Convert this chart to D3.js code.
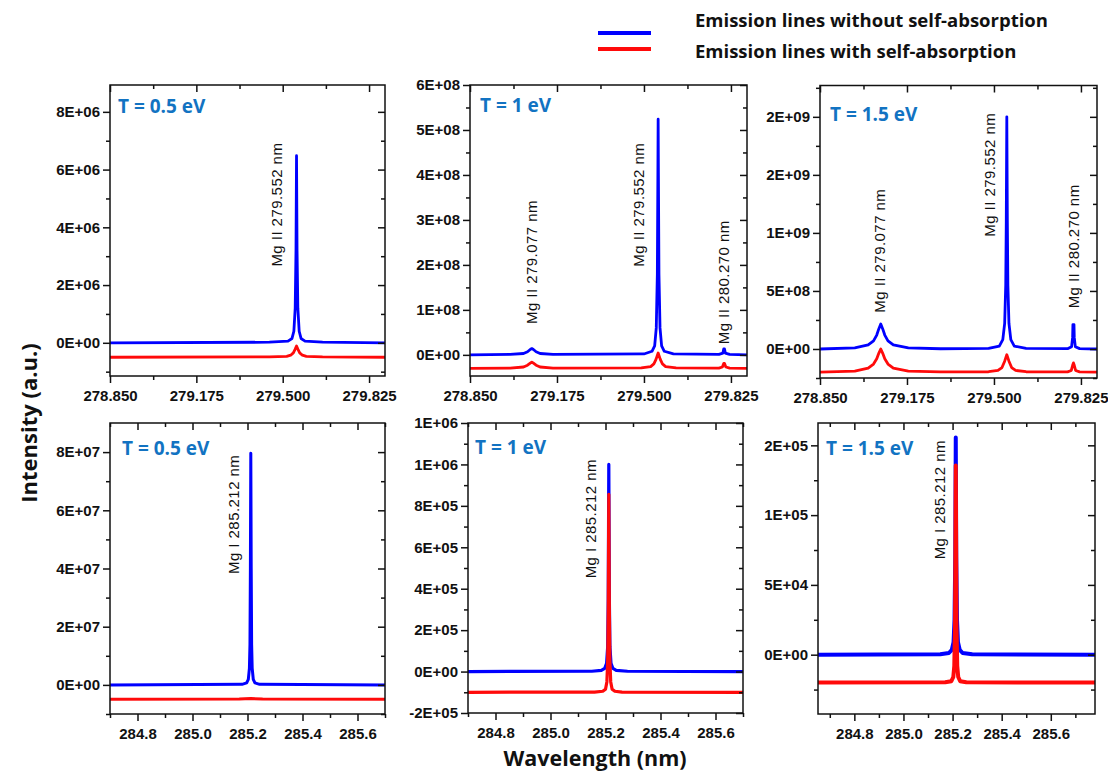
<!DOCTYPE html>
<html><head><meta charset="utf-8">
<script src="https://cdn.jsdelivr.net/npm/d3@7"></script>
<style>body{margin:0;background:#fff}svg{display:block}</style>
</head><body>
<svg id="chart" width="1108" height="775"></svg>
<script>
// ---------- DATA ----------
const legendLabels = ["Emission lines without self-absorption", "Emission lines with self-absorption"];
const tempLabels = ["T = 0.5 eV", "T = 1 eV", "T = 1.5 eV", "T = 0.5 eV", "T = 1 eV", "T = 1.5 eV"];

// x ticks
const xTicksTop = [278.85, 279.175, 279.5, 279.825];
const xTickLabelsTop = ["278.850", "279.175", "279.500", "279.825"];
const xMinorTop = [279.0125, 279.3375, 279.6625];
const xTicksBot = [284.8, 285.0, 285.2, 285.4, 285.6];
const xTickLabelsBot = ["284.8", "285.0", "285.2", "285.4", "285.6"];
const xMinorBot = [284.7, 284.9, 285.1, 285.3, 285.5, 285.7];

// y ticks per panel
const yTicks1 = [0, 2e6, 4e6, 6e6, 8e6];
const yTickLabels1 = ["0E+00", "2E+06", "4E+06", "6E+06", "8E+06"];
const yMinor1 = [-1e6, 1e6, 3e6, 5e6, 7e6];
const yTicks2 = [0, 1e8, 2e8, 3e8, 4e8, 5e8, 6e8];
const yTickLabels2 = ["0E+00", "1E+08", "2E+08", "3E+08", "4E+08", "5E+08", "6E+08"];
const yMinor2 = [0.5e8, 1.5e8, 2.5e8, 3.5e8, 4.5e8, 5.5e8];
const yTicks3 = [0, 5e8, 1e9, 1.5e9, 2e9];
const yTickLabels3 = ["0E+00", "5E+08", "1E+09", "2E+09", "2E+09"];
const yMinor3 = [-2.5e8, 2.5e8, 7.5e8, 1.25e9, 1.75e9, 2.25e9];
const yTicks4 = [0, 2e7, 4e7, 6e7, 8e7];
const yTickLabels4 = ["0E+00", "2E+07", "4E+07", "6E+07", "8E+07"];
const yMinor4 = [-1e7, 1e7, 3e7, 5e7, 7e7];
const yTicks5 = [-2e5, 0, 2e5, 4e5, 6e5, 8e5, 1e6, 1.2e6];
const yTickLabels5 = ["-2E+05", "0E+00", "2E+05", "4E+05", "6E+05", "8E+05", "1E+06", "1E+06"];
const yMinor5 = [-1e5, 1e5, 3e5, 5e5, 7e5, 9e5, 1.1e6];
const yTicks6 = [0, 5e4, 1e5, 1.5e5];
const yTickLabels6 = ["0E+00", "5E+04", "1E+05", "2E+05"];
const yMinor6 = [-2.5e4, 2.5e4, 7.5e4, 1.25e5];

// spectra [wavelength nm, intensity]
const p1Blue = [[278.85,0],[279.45,0.02e6],[279.52,0.06e6],[279.535,0.15e6],[279.542,0.4e6],[279.547,1.2e6],[279.550,3.2e6],[279.552,6.48e6],[279.554,3.2e6],[279.557,1.2e6],[279.562,0.4e6],[279.569,0.15e6],[279.584,0.06e6],[279.65,0.02e6],[279.885,0]];
const p1Red = [[278.85,-0.5e6],[279.45,-0.49e6],[279.515,-0.47e6],[279.530,-0.43e6],[279.540,-0.35e6],[279.547,-0.22e6],[279.552,-0.11e6],[279.557,-0.22e6],[279.564,-0.35e6],[279.574,-0.43e6],[279.589,-0.47e6],[279.65,-0.49e6],[279.885,-0.5e6]];

const p2Blue = [[278.85,0],[279.00,0.01e8],[279.05,0.03e8],[279.065,0.07e8],[279.075,0.12e8],[279.081,0.14e8],[279.087,0.12e8],[279.097,0.07e8],[279.112,0.03e8],[279.16,0.01e8],
  [279.50,0.02e8],[279.530,0.08e8],[279.540,0.2e8],[279.546,0.6e8],[279.550,1.8e8],[279.552,4e8],[279.553,5.24e8],[279.554,4e8],[279.556,1.8e8],[279.560,0.6e8],[279.566,0.2e8],[279.576,0.08e8],[279.61,0.02e8],
  [279.78,0.01e8],[279.795,0.04e8],[279.798,0.13e8],[279.801,0.13e8],[279.804,0.04e8],[279.82,0.01e8],[279.885,0]];
const p2Red = [[278.85,-0.3e8],[279.00,-0.295e8],[279.05,-0.27e8],[279.065,-0.23e8],[279.075,-0.185e8],[279.081,-0.16e8],[279.087,-0.185e8],[279.097,-0.23e8],[279.112,-0.27e8],[279.16,-0.295e8],
  [279.49,-0.29e8],[279.525,-0.26e8],[279.537,-0.20e8],[279.545,-0.10e8],[279.553,0.04e8],[279.561,-0.10e8],[279.569,-0.20e8],[279.581,-0.26e8],[279.62,-0.29e8],
  [279.78,-0.295e8],[279.793,-0.27e8],[279.798,-0.19e8],[279.801,-0.19e8],[279.806,-0.27e8],[279.82,-0.295e8],[279.885,-0.3e8]];

const p3Blue = [[278.85,0],[278.98,0.1e8],[279.03,0.35e8],[279.050,0.7e8],[279.062,1.2e8],[279.070,1.75e8],[279.077,2.15e8],[279.084,1.75e8],[279.092,1.2e8],[279.104,0.7e8],[279.124,0.35e8],[279.18,0.1e8],[279.30,0.02e8],
  [279.48,0.05e8],[279.520,0.25e8],[279.533,0.8e8],[279.540,2.2e8],[279.544,5.5e8],[279.546,11e8],[279.548,20e8],[279.550,11e8],[279.552,5.5e8],[279.556,2.2e8],[279.563,0.8e8],[279.576,0.25e8],[279.62,0.05e8],
  [279.775,0.03e8],[279.790,0.2e8],[279.794,1.0e8],[279.795,2.1e8],[279.799,2.1e8],[279.800,1.0e8],[279.804,0.2e8],[279.82,0.03e8],[279.885,0]];
const p3Red = [[278.85,-2.0e8],[278.98,-1.9e8],[279.03,-1.65e8],[279.050,-1.3e8],[279.062,-0.85e8],[279.070,-0.35e8],[279.077,0],[279.084,-0.35e8],[279.092,-0.85e8],[279.104,-1.3e8],[279.124,-1.65e8],[279.18,-1.9e8],[279.30,-1.98e8],
  [279.48,-1.96e8],[279.515,-1.85e8],[279.530,-1.6e8],[279.540,-1.05e8],[279.548,-0.5e8],[279.556,-1.05e8],[279.566,-1.6e8],[279.581,-1.85e8],[279.62,-1.96e8],
  [279.775,-1.97e8],[279.789,-1.85e8],[279.794,-1.4e8],[279.797,-1.2e8],[279.800,-1.4e8],[279.805,-1.85e8],[279.82,-1.97e8],[279.885,-2.0e8]];

const p4Blue = [[284.70,0],[285.18,0.02e7],[285.197,0.07e7],[285.203,0.19e7],[285.207,0.58e7],[285.209,1.4e7],[285.2105,4e7],[285.212,7.96e7],[285.2135,4e7],[285.215,1.4e7],[285.217,0.58e7],[285.221,0.19e7],[285.227,0.07e7],[285.244,0.02e7],[285.70,0]];
const p4Red = [[284.70,-0.49e7],[285.17,-0.488e7],[285.212,-0.47e7],[285.255,-0.488e7],[285.70,-0.49e7]];

const p5Blue = [[284.70,0],[285.15,1500],[285.185,6000],[285.197,15000],[285.204,40000],[285.208,120000],[285.210,350000],[285.212,1000000],[285.214,350000],[285.216,120000],[285.220,40000],[285.227,15000],[285.239,6000],[285.28,1500],[285.70,0]];
const p5Red = [[284.70,-100000],[285.16,-99000],[285.190,-95000],[285.200,-85000],[285.205,-50000],[285.208,50000],[285.210,300000],[285.212,855000],[285.214,300000],[285.216,50000],[285.219,-50000],[285.224,-85000],[285.234,-95000],[285.26,-99000],[285.70,-100000]];

const p6Blue = [[284.652,0],[285.15,300],[285.185,1200],[285.197,3500],[285.204,9000],[285.208,25000],[285.211,70000],[285.213,155600],[285.215,70000],[285.218,25000],[285.222,9000],[285.229,3500],[285.241,1200],[285.28,300],[285.78,0]];
const p6Red = [[284.652,-20000],[285.17,-19800],[285.195,-19000],[285.203,-16000],[285.207,-8000],[285.210,20000],[285.213,135600],[285.216,20000],[285.219,-8000],[285.223,-16000],[285.231,-19000],[285.256,-19800],[285.78,-20000]];

// peak labels: [text, wavelength of label centre, intensity at label start]
const p1Labels = [["Mg II 279.552 nm", 279.477, 2.64e6]];
const p2Labels = [["Mg II 279.077 nm", 279.0805, 0.686e8], ["Mg II 279.552 nm", 279.479, 1.96e8], ["Mg II 280.270 nm", 279.799, 0.235e8]];
const p3Labels = [["Mg II 279.077 nm", 279.074, 3.13e8], ["Mg II 279.552 nm", 279.483, 9.67e8], ["Mg II 280.270 nm", 279.796, 3.5e8]];
const p4Labels = [["Mg I 285.212 nm", 285.148, 3.81e7]];
const p5Labels = [["Mg I 285.212 nm", 285.144, 4.5e5]];
const p6Labels = [["Mg I 285.212 nm", 285.146, 6.83e4]];

// ---------- LAYOUT ----------
const BLUE = "#0000ff", RED = "#ff0a0a", TCOL = "#1273c2";
const panels = [
  {L:110, T:85, R:385, B:376, xd:[278.85,279.885], yd:[-1.15e6,8.93e6], xt:xTicksTop, xl:xTickLabelsTop, xm:xMinorTop, yt:yTicks1, yl:yTickLabels1, ym:yMinor1, blue:p1Blue, red:p1Red, labels:p1Labels, temp:tempLabels[0], tdx:8, tdy:21, lw:2.8},
  {L:470, T:85, R:747, B:376, xd:[278.85,279.885], yd:[-0.47e8,6.0e8], xt:xTicksTop, xl:xTickLabelsTop, xm:xMinorTop, yt:yTicks2, yl:yTickLabels2, ym:yMinor2, blue:p2Blue, red:p2Red, labels:p2Labels, temp:tempLabels[1], tdx:10, tdy:20, lw:2.8},
  {L:820, T:85.5, R:1097, B:378, xd:[278.85,279.885], yd:[-2.5e8,2.27e9], xt:xTicksTop, xl:xTickLabelsTop, xm:xMinorTop, yt:yTicks3, yl:yTickLabels3, ym:yMinor3, blue:p3Blue, red:p3Red, labels:p3Labels, temp:tempLabels[2], tdx:10, tdy:28, lw:2.8},
  {L:110, T:423, R:385, B:714, xd:[284.7,285.7], yd:[-1e7,9e7], xt:xTicksBot, xl:xTickLabelsBot, xm:xMinorBot, yt:yTicks4, yl:yTickLabels4, ym:yMinor4, blue:p4Blue, red:p4Red, labels:p4Labels, temp:tempLabels[3], tdx:12, tdy:25, lw:3},
  {L:468, T:423, R:743, B:713, xd:[284.7,285.7], yd:[-2e5,1.2e6], xt:xTicksBot, xl:xTickLabelsBot, xm:xMinorBot, yt:yTicks5, yl:yTickLabels5, ym:yMinor5, blue:p5Blue, red:p5Red, labels:p5Labels, temp:tempLabels[4], tdx:7, tdy:24, lw:3.2},
  {L:818, T:423, R:1095, B:714, xd:[284.652,285.78], yd:[-4.25e4,1.66e5], xt:xTicksBot, xl:xTickLabelsBot, xm:xMinorBot, yt:yTicks6, yl:yTickLabels6, ym:yMinor6, blue:p6Blue, red:p6Red, labels:p6Labels, temp:tempLabels[5], tdx:8, tdy:25, lw:4}
];

const svg = d3.select("#chart");
const TICKFONT = "'Liberation Sans', Arial, sans-serif";
const TITLEFONT = "'Open Sans', 'Noto Sans', sans-serif";

panels.forEach(p => {
  const x = d3.scaleLinear().domain(p.xd).range([p.L, p.R]);
  const y = d3.scaleLinear().domain(p.yd).range([p.B, p.T]);
  const g = svg.append("g");
  const clipId = "clip" + p.L + "_" + p.T;
  svg.append("clipPath").attr("id", clipId).append("rect")
    .attr("x", p.L).attr("y", p.T).attr("width", p.R - p.L).attr("height", p.B - p.T);

  const line = d3.line().x(d => x(d[0])).y(d => y(d[1]));
  const lines = g.append("g").attr("clip-path", `url(#${clipId})`);
  lines.append("path").attr("d", line(p.blue)).attr("fill", "none").attr("stroke", BLUE)
    .attr("stroke-width", p.lw).attr("stroke-linejoin", "round");
  lines.append("path").attr("d", line(p.red)).attr("fill", "none").attr("stroke", RED)
    .attr("stroke-width", p.lw).attr("stroke-linejoin", "round");

  // axes
  const fmtX = (d) => p.xl[p.xt.indexOf(d)];
  const fmtY = (d) => p.yl[p.yt.indexOf(d)];
  const axB = g.append("g").attr("transform", `translate(0,${p.B})`)
    .call(d3.axisBottom(x).tickValues(p.xt).tickFormat(fmtX).tickSize(7).tickPadding(4));
  const axBm = g.append("g").attr("transform", `translate(0,${p.B})`)
    .call(d3.axisBottom(x).tickValues(p.xm).tickFormat("").tickSize(4));
  const axT = g.append("g").attr("transform", `translate(0,${p.T})`)
    .call(d3.axisBottom(x).tickValues(p.xt).tickFormat("").tickSize(7));
  const axTm = g.append("g").attr("transform", `translate(0,${p.T})`)
    .call(d3.axisBottom(x).tickValues(p.xm).tickFormat("").tickSize(4));
  const axL = g.append("g").attr("transform", `translate(${p.L},0)`)
    .call(d3.axisLeft(y).tickValues(p.yt).tickFormat(fmtY).tickSize(7).tickPadding(3));
  const axLm = g.append("g").attr("transform", `translate(${p.L},0)`)
    .call(d3.axisLeft(y).tickValues(p.ym).tickFormat("").tickSize(4));
  const axR = g.append("g").attr("transform", `translate(${p.R},0)`)
    .call(d3.axisLeft(y).tickValues(p.yt).tickFormat("").tickSize(7));
  const axRm = g.append("g").attr("transform", `translate(${p.R},0)`)
    .call(d3.axisLeft(y).tickValues(p.ym).tickFormat("").tickSize(4));
  [axB, axBm, axT, axTm, axL, axLm, axR, axRm].forEach(a => {
    a.select(".domain").remove();
    a.selectAll("line").attr("stroke", "#111").attr("stroke-width", 1.5);
    a.selectAll("text").attr("fill", "#111").style("font-family", TICKFONT)
      .style("font-size", "15px").style("font-weight", "bold");
  });
  axB.selectAll("text").attr("dy", "0.95em");

  g.append("rect").attr("x", p.L).attr("y", p.T).attr("width", p.R - p.L).attr("height", p.B - p.T)
    .attr("fill", "none").attr("stroke", "#111").attr("stroke-width", 1.5);

  // temperature label
  g.append("text").attr("x", p.L + p.tdx).attr("y", p.T + p.tdy).attr("dominant-baseline", "central")
    .attr("fill", TCOL).style("font-family", TITLEFONT).style("font-weight", "bold").style("font-size", "19px")
    .text(p.temp);

  // peak labels
  p.labels.forEach(l => {
    const lx = x(l[1]), ly = y(l[2]);
    g.append("text").attr("transform", `translate(${lx},${ly}) rotate(-90)`)
      .attr("text-anchor", "start").attr("dominant-baseline", "central")
      .attr("fill", "#111").style("font-family", TICKFONT).style("font-size", "15px")
      .style("letter-spacing", "0.45px").text(l[0]);
  });
});

// axis titles
svg.append("text").attr("transform", "translate(28,423) rotate(-90)").attr("text-anchor", "middle")
  .attr("dominant-baseline", "central").style("font-family", TITLEFONT).style("font-weight", "bold")
  .style("font-size", "22px").attr("fill", "#111").text("Intensity (a.u.)");
svg.append("text").attr("x", 595).attr("y", 757).attr("text-anchor", "middle")
  .attr("dominant-baseline", "central").style("font-family", TITLEFONT).style("font-weight", "bold")
  .style("font-size", "21.5px").attr("fill", "#111").text("Wavelength (nm)");

// legend
const legColors = [BLUE, RED];
const legLineY = [33, 49];
const legTextY = [19, 50];
legendLabels.forEach((t, i) => {
  svg.append("line").attr("x1", 598).attr("x2", 651).attr("y1", legLineY[i]).attr("y2", legLineY[i])
    .attr("stroke", legColors[i]).attr("stroke-width", 4);
  svg.append("text").attr("x", 695).attr("y", legTextY[i]).attr("dominant-baseline", "central")
    .style("font-family", TITLEFONT).style("font-weight", "bold").style("font-size", "18.5px")
    .attr("fill", "#111").text(t);
});
</script>
</body></html>
